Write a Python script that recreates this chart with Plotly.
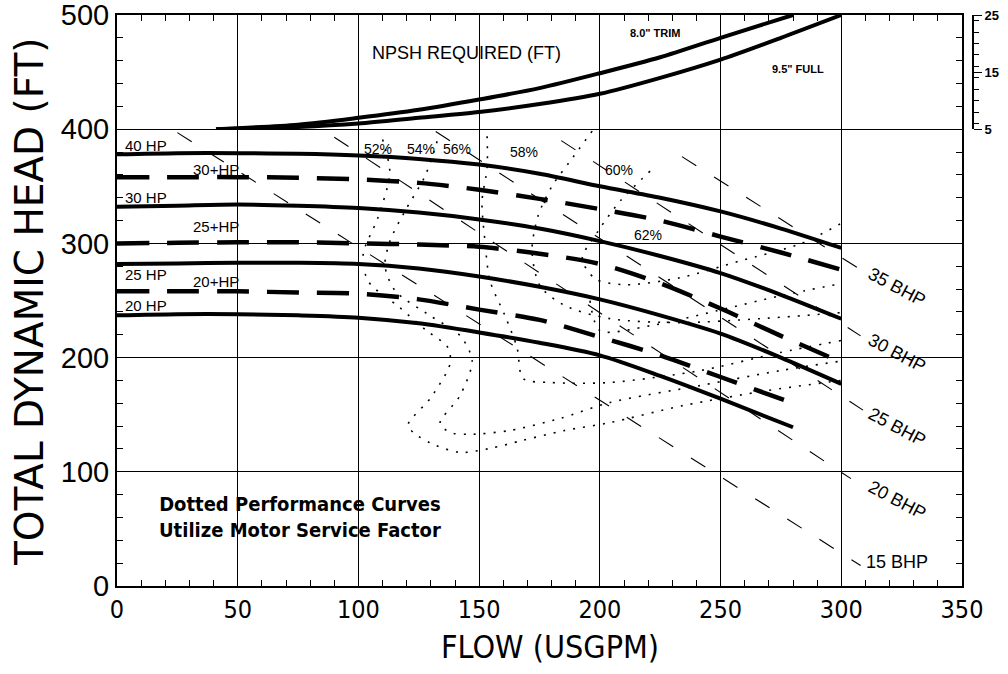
import plotly.graph_objects as go

# ---- head / capacity curves (flow USGPM, head FT) ----
flow_13 = [0, 25, 50, 75, 100, 125, 150, 175, 200, 225, 250, 275, 300]
head_40hp = [378, 379, 379, 378.5, 377, 374, 369, 361, 350, 340, 328, 313, 296]
head_30p_hp = [358, 358, 358, 357.5, 356, 353, 347, 339, 330, 320, 306, 292, 277]
head_30hp = [332, 333, 334, 333, 331, 327, 321, 313, 302, 289, 274, 255, 234]
head_25p_hp = [300, 300.5, 301, 301, 300, 299, 297, 291, 282, 265, 243, 219, 196]
head_25hp = [282, 282.5, 283, 283, 282, 278, 271, 262, 251, 237, 221, 200, 177]

flow_12 = [0, 25, 50, 75, 100, 125, 150, 175, 200, 225, 250, 280]
head_20p_hp = [258, 258, 258, 257, 256, 251, 242, 233, 218, 202, 183, 160]
head_20hp = [237, 238, 238, 237, 235, 230, 222, 213, 202, 184, 164, 139]

# ---- NPSH required (ft, right hand scale) ----
npsh_trim_flow = [41, 75, 100, 125, 150, 175, 200, 225, 250, 280]
npsh_trim = [5, 5.8, 7, 8.4, 10.2, 12.2, 14.8, 17.6, 21, 25]
npsh_full_flow = [41, 75, 100, 125, 150, 175, 200, 225, 250, 275, 300]
npsh_full = [5, 5.4, 6, 7, 8, 9.4, 11.2, 14, 17.2, 21, 25]

# ---- brake horsepower lines ----
bhp_15_flow, bhp_15_head = [25, 308], [397, 18]
bhp_20_flow, bhp_20_head = [90, 304], [393, 94]
bhp_25_flow, bhp_25_head = [132, 309], [398, 154]
bhp_30_flow, bhp_30_head = [184, 308], [390, 219]
bhp_35_flow, bhp_35_head = [234, 308], [376, 277]

# ---- efficiency contours (dotted) ----
eff_52_flow = [110, 113, 108, 102, 104, 117, 128, 137, 138, 130, 120.5, 123, 130, 142, 154.5, 168, 185, 204, 234.5, 269, 300]
eff_52_head = [391, 362, 322, 291, 267, 244, 224, 209, 195, 165, 141, 134, 125, 117, 120.5, 127.5, 136, 143, 158, 171, 180]
eff_54_flow = [132.6, 127.6, 119.3, 113.1, 111, 115.2, 129.7, 142.1, 147.1, 142.1, 133.8, 137.9, 146.2, 162.8, 183.5, 204.2, 241.5, 274.6, 300]
eff_54_head = [389.5, 359, 328.4, 302.2, 280.3, 258.5, 236.7, 219.2, 197.4, 166.8, 142.4, 134.5, 132.8, 136.2, 146.7, 160.7, 175.5, 188.6, 197]
eff_56_flow = [153.3, 153.3, 151.2, 152.4, 154.5, 160.7, 165.7, 168.2, 179.4, 204.2, 241.5, 274.6, 300]
eff_56_head = [393.9, 365.9, 337.1, 302.2, 267.2, 236.7, 208.7, 181.7, 178.2, 178.2, 188.6, 204.4, 215]
eff_58_flow = [196.8, 187.7, 180.2, 174.4, 171.9, 175.2, 185.6, 204.2, 233.2, 266.4, 299.5]
eff_58_head = [398.3, 372.1, 350.2, 324, 293.4, 262.9, 245.4, 234.1, 230.6, 234.1, 239.3]
eff_60_flow = [220.8, 208.4, 199.3, 192.7, 198.1, 210.5, 233.2, 258.1, 283, 299.5]
eff_60_head = [363.3, 337.1, 310.9, 286.5, 269, 263.8, 269.9, 284.7, 299.6, 317]
eff_62_flow = [195.9, 200.1, 220.8, 248.5, 274.6, 299.5]
eff_62_head = [249.8, 223.6, 227.9, 241, 254.1, 264.6]

hp_labels = ["40 HP", "30+HP", "30 HP", "25+HP", "25 HP", "20+HP", "20 HP"]
hp_label_flow = [12, 41, 12, 41, 12, 41, 12]
hp_label_head = [386, 365, 340.5, 315, 273, 267, 246]

eff_labels = ["52%", "54%", "56%", "58%", "60%", "62%"]
eff_label_flow = [108, 126, 141, 168.6, 208, 220]
eff_label_head = [383, 383, 383, 380, 364, 307]

bhp_labels = ["35 BHP", "30 BHP", "25 BHP", "20 BHP", "15 BHP"]
bhp_label_head = [262, 204, 139, 75, 21]

BLACK = "#000000"
SANS = "Liberation Sans, Arial, Helvetica, sans-serif"
NARROW = "Liberation Sans Narrow, Arial Narrow, DejaVu Sans Condensed, sans-serif"

FIG_W, FIG_H = 1008, 674
M_L, M_R, M_T, M_B = 117, 20, 15, 88
PLOT_W = FIG_W - M_L - M_R
PLOT_H = FIG_H - M_T - M_B
X_DOM = 845 / PLOT_W

fig = go.Figure()


def add_line(x, y, width, dash="solid", xaxis="x", yaxis="y", shape="spline"):
    fig.add_trace(go.Scatter(
        x=x, y=y, mode="lines", xaxis=xaxis, yaxis=yaxis, hoverinfo="skip", showlegend=False,
        line=dict(color=BLACK, width=width, dash=dash, shape=shape, smoothing=0.8),
    ))


# efficiency contours
for fx, hy in [(eff_52_flow, eff_52_head), (eff_54_flow, eff_54_head), (eff_56_flow, eff_56_head),
               (eff_58_flow, eff_58_head), (eff_60_flow, eff_60_head), (eff_62_flow, eff_62_head)]:
    add_line(fx, hy, 1.6, dash="2px,8px")

# bhp lines
for fx, hy in [(bhp_15_flow, bhp_15_head), (bhp_20_flow, bhp_20_head), (bhp_25_flow, bhp_25_head),
               (bhp_30_flow, bhp_30_head), (bhp_35_flow, bhp_35_head)]:
    add_line(fx, hy, 1.1, dash="17px,21px", shape="linear")

# head curves
for hy in [head_40hp, head_30hp, head_25hp]:
    add_line(flow_13, hy, 4)
add_line(flow_12, head_20hp, 4)
for hy in [head_30p_hp, head_25p_hp]:
    add_line(flow_13, hy, 4.5, dash="32px,18px")
add_line(flow_12, head_20p_hp, 4.5, dash="32px,18px")

# npsh curves
add_line(npsh_trim_flow, npsh_trim, 4, xaxis="x2", yaxis="y2")
add_line(npsh_full_flow, npsh_full, 4, xaxis="x2", yaxis="y2")

ann = []
for t, fx, hy in zip(hp_labels, hp_label_flow, hp_label_head):
    ann.append(dict(x=fx, y=hy, text=t, font=dict(size=15, family=SANS)))
for t, fx, hy in zip(eff_labels, eff_label_flow, eff_label_head):
    ann.append(dict(x=fx, y=hy, text=t, font=dict(size=14, family=SANS)))
for t, hy in zip(bhp_labels, bhp_label_head):
    ann.append(dict(x=323, y=hy, text=t, textangle=0 if t == "15 BHP" else 28,
                    font=dict(size=18, family=SANS)))
ann.append(dict(x=144.6, y=467, text="NPSH REQUIRED (FT)", font=dict(size=18, family=SANS)))
ann.append(dict(x=223, y=484, text='8.0" TRIM', font=dict(size=11, family=SANS, weight="bold")))
ann.append(dict(x=282, y=453, text='9.5" FULL', font=dict(size=11, family=SANS, weight="bold")))
ann.append(dict(x=76, y=60, text="Dotted Performance Curves<br>Utilize Motor Service Factor",
                font=dict(size=20, family=NARROW, weight="bold")))
for a in ann:
    a.update(xref="x", yref="y", showarrow=False, xanchor="center", yanchor="middle")

ann.append(dict(x=(29 - M_L) / PLOT_W, y=(586 - 302) / PLOT_H, xref="paper", yref="paper",
                showarrow=False, xanchor="center", yanchor="middle", textangle=-90,
                text="TOTAL DYNAMIC HEAD (FT)", font=dict(size=39, family="DejaVu Sans, sans-serif")))
ann.append(dict(x=(550 - M_L) / PLOT_W, y=(586 - 647) / PLOT_H, xref="paper", yref="paper",
                showarrow=False, xanchor="center", yanchor="middle",
                text="FLOW (USGPM)", font=dict(size=32, family=NARROW)))

fig.update_layout(
    template="none",
    width=FIG_W, height=FIG_H,
    margin=dict(l=M_L, r=M_R, t=M_T, b=M_B, autoexpand=False),
    paper_bgcolor="white", plot_bgcolor="rgba(0,0,0,0)",
    showlegend=False,
    annotations=ann,
    font=dict(color=BLACK),
    xaxis=dict(
        domain=[0, X_DOM], range=[0, 350], tickvals=list(range(0, 351, 50)),
        showgrid=True, gridcolor=BLACK, gridwidth=1, zeroline=False, automargin=False,
        showline=True, linecolor=BLACK, linewidth=2, mirror="allticks",
        ticks="inside", ticklen=12, tickcolor=BLACK, ticklabeloverflow="allow",
        minor=dict(dtick=10, ticks="inside", ticklen=6, tickcolor=BLACK, showgrid=False),
        tickfont=dict(size=25, family=NARROW), fixedrange=True,
    ),
    yaxis=dict(
        domain=[0, 1], range=[0, 500], tickvals=list(range(0, 501, 100)),
        showgrid=True, gridcolor=BLACK, gridwidth=1, zeroline=False, automargin=False,
        showline=True, linecolor=BLACK, linewidth=2, mirror="allticks",
        ticks="inside", ticklen=12, tickcolor=BLACK, ticklabeloverflow="allow",
        minor=dict(dtick=20, ticks="inside", ticklen=6, tickcolor=BLACK, showgrid=False),
        tickfont=dict(size=29, family=SANS), fixedrange=True,
    ),
    xaxis2=dict(
        domain=[0, X_DOM], range=[0, 350], anchor="y2", visible=False,
        automargin=False, fixedrange=True,
    ),
    yaxis2=dict(
        domain=[0.8, 1], range=[5, 25], tickvals=[5, 15, 25], anchor="free",
        position=(973 - M_L) / PLOT_W, side="right", showgrid=False, zeroline=False,
        showline=True, linecolor=BLACK, linewidth=2, automargin=False,
        ticks="outside", ticklen=8, tickcolor=BLACK, ticklabeloverflow="allow",
        minor=dict(dtick=2, ticks="outside", ticklen=5, tickcolor=BLACK),
        tickfont=dict(size=13, family=SANS, weight="bold"), fixedrange=True,
    ),
)

# the default page body has an 8px margin; drop it so the figure fills the window
fig.write_html("out.html", config={"displayModeBar": False},
               post_script="document.body.style.margin = '0px';")
